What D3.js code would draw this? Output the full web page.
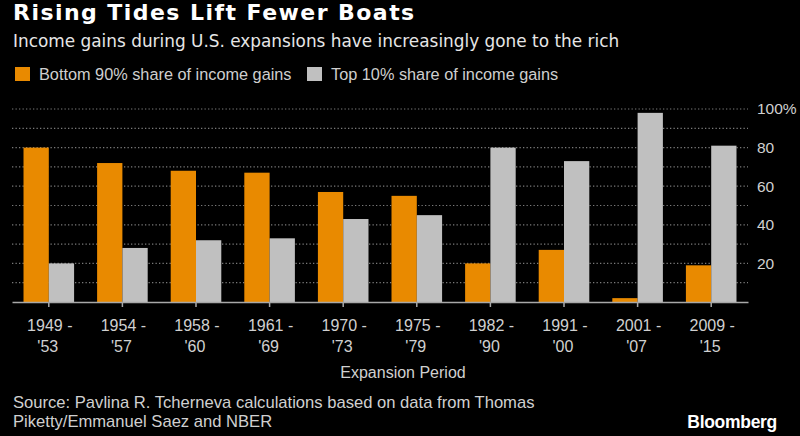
<!DOCTYPE html>
<html>
<head>
<meta charset="utf-8">
<script src="https://cdn.jsdelivr.net/npm/d3@7"></script>
<style>
body { margin: 0; background: #000; }
svg text { font-family: "Liberation Sans", Arial, sans-serif; }
</style>
</head>
<body>
<div id="graph"></div>
<script>
let periodStart = ['1949 -', '1954 -', '1958 -', '1961 -', '1970 -', '1975 -', '1982 -', '1991 -', '2001 -', '2009 -'];
let periodEnd = ["'53", "'57", "'60", "'69", "'73", "'79", "'90", "'00", "'07", "'15"];
let bottom90 = [80, 72, 68, 67, 57, 55, 20, 27, 2, 19];	//доля нижних 90%
let top10 = [20, 28, 32, 33, 43, 45, 80, 73, 98, 81];	//доля верхних 10%
let seriesNames = ['Bottom 90% share of income gains', 'Top 10% share of income gains'];
let yTickLabels = [20, 40, 60, 80, 100];

let colors = ['#e98a00', '#c0c0c0'];
let widthDisp = 800, heightDisp = 436;

let svg = d3.select('#graph').append('svg')
	.attr('width', widthDisp)
	.attr('height', heightDisp)
	.style('background', '#000');

let x0 = d3.scaleBand()
	.domain(d3.range(periodStart.length))
	.range([12, 748]);
let x1 = d3.scaleBand()
	.domain([0, 1])
	.range([0, x0.bandwidth()])
	.paddingOuter(0.455);
let y = d3.scaleLinear()
	.domain([0, 100])
	.range([302, 109]);

// пунктирная сетка
svg.append('g').selectAll('line')
	.data(y.ticks(10).filter(d => d > 0))
	.enter().append('line')
	.attr('x1', 12)
	.attr('x2', 748)
	.attr('y1', d => y(d))
	.attr('y2', d => y(d))
	.attr('stroke', '#7a7a7a')
	.attr('stroke-width', 1.2)
	.attr('stroke-dasharray', '1.3,2.2');

// столбцы
let groups = svg.append('g').selectAll('g')
	.data(periodStart.map((p, i) => [bottom90[i], top10[i]]))
	.enter().append('g')
	.attr('transform', (d, i) => 'translate(' + x0(i) + ',0)');

groups.selectAll('rect')
	.data(d => d)
	.enter().append('rect')
	.attr('x', (d, j) => x1(j))
	.attr('width', x1.bandwidth())
	.attr('y', d => y(d))
	.attr('height', d => y(0) - y(d))
	.attr('fill', (d, j) => colors[j]);

// ось X
let xAxis = svg.append('g')
	.attr('transform', 'translate(0,' + y(0) + ')')
	.call(d3.axisBottom(x0).tickSize(5).tickSizeOuter(0).tickFormat(''));
xAxis.select('.domain').attr('stroke', '#a8a8a8').attr('stroke-width', 1.5);
xAxis.selectAll('.tick line').attr('stroke', '#a8a8a8').attr('stroke-width', 1.5);

let xLabels = svg.append('g').selectAll('text')
	.data(d3.range(periodStart.length))
	.enter().append('text')
	.attr('text-anchor', 'middle')
	.attr('fill', '#d0d0d0')
	.style('font-size', '16px');
xLabels.append('tspan')
	.attr('x', i => x0(i) + x0.bandwidth() / 2 + 1)
	.attr('y', 331)
	.text(i => periodStart[i]);
xLabels.append('tspan')
	.attr('x', i => x0(i) + x0.bandwidth() / 2 - 1)
	.attr('y', 352)
	.text(i => periodEnd[i]);

// ось Y справа
let yAxis = svg.append('g')
	.attr('transform', 'translate(752,0)')
	.call(d3.axisRight(y).tickValues(yTickLabels).tickSize(0).tickPadding(5)
		.tickFormat(d => d == 100 ? '100%' : d));
yAxis.select('.domain').remove();
yAxis.selectAll('text')
	.attr('fill', '#d0d0d0')
	.style('font-size', '15.5px')
	.style('font-family', '"Liberation Sans", Arial, sans-serif');

// заголовки
svg.append('text')
	.attr('x', 13).attr('y', 20)
	.attr('fill', '#fff')
	.style('font-family', '"DejaVu Sans", sans-serif')
	.style('font-weight', 'bold')
	.style('font-size', '22px')
	.style('letter-spacing', '1.45px')
	.text('Rising Tides Lift Fewer Boats');

svg.append('text')
	.attr('x', 13).attr('y', 47)
	.attr('fill', '#e6e6e6')
	.style('font-family', '"DejaVu Sans", sans-serif')
	.style('font-size', '16.9px')
	.text('Income gains during U.S. expansions have increasingly gone to the rich');

// легенда
let legendX = [15, 307];
seriesNames.forEach((name, i) => {
	svg.append('rect')
		.attr('x', legendX[i]).attr('y', 67)
		.attr('width', 15).attr('height', 14)
		.attr('fill', colors[i]);
	svg.append('text')
		.attr('x', legendX[i] + 24).attr('y', 80)
		.attr('fill', '#cfcfcf')
		.style('font-size', '16.3px')
		.text(name);
});

svg.append('text')
	.attr('x', 403).attr('y', 378)
	.attr('text-anchor', 'middle')
	.attr('fill', '#d0d0d0')
	.style('font-size', '16px')
	.text('Expansion Period');

let source = svg.append('text')
	.attr('fill', '#d0d0d0')
	.style('font-size', '16.6px');
source.append('tspan').attr('x', 13).attr('y', 408)
	.text('Source: Pavlina R. Tcherneva calculations based on data from Thomas');
source.append('tspan').attr('x', 13).attr('y', 427)
	.text('Piketty/Emmanuel Saez and NBER');

svg.append('text')
	.attr('x', 777).attr('y', 428)
	.attr('text-anchor', 'end')
	.attr('fill', '#fff')
	.style('font-weight', 'bold')
	.style('font-size', '17.5px')
	.style('letter-spacing', '-0.3px')
	.text('Bloomberg');
</script>
</body>
</html>
